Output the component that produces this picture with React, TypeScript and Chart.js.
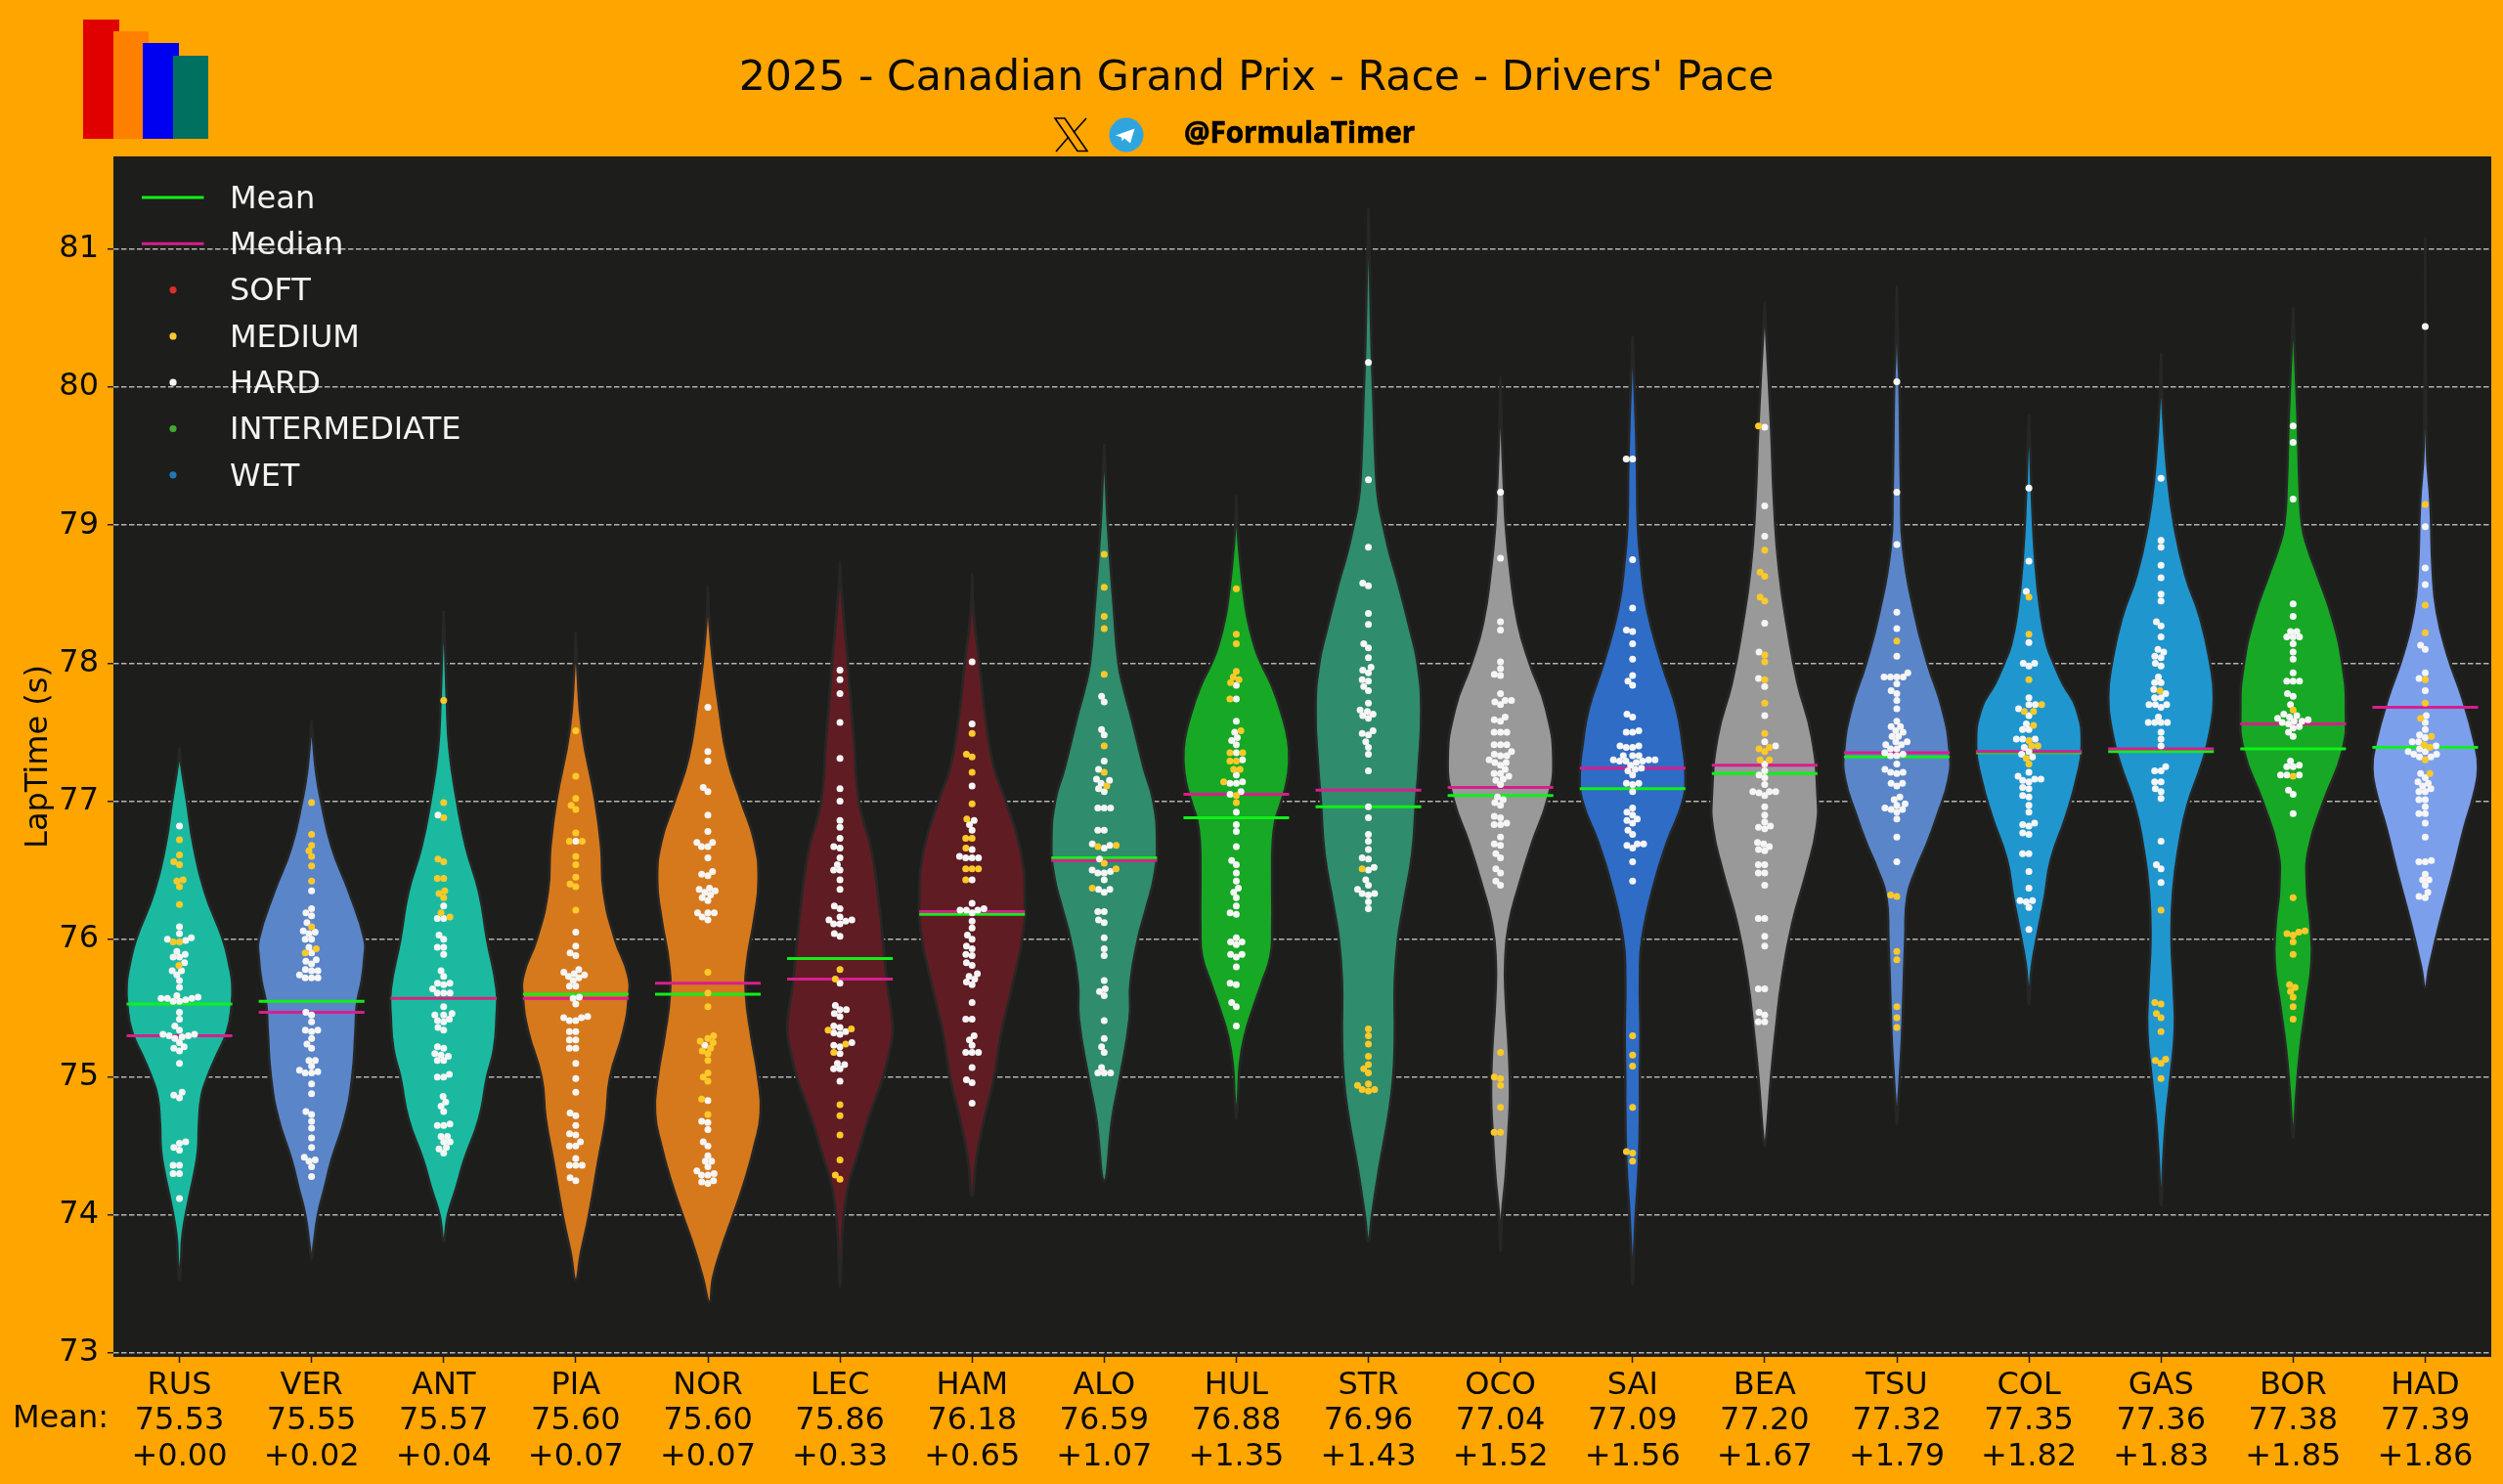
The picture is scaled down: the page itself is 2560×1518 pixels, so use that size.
import React, { useEffect, useRef } from "react";
import { Chart, registerables } from "chart.js";

Chart.register(...registerables);

const drivers = ["RUS","VER","ANT","PIA","NOR","LEC","HAM","ALO","HUL","STR","OCO","SAI","BEA","TSU","COL","GAS","BOR","HAD"];
const meanLabels = ["75.53","75.55","75.57","75.60","75.60","75.86","76.18","76.59","76.88","76.96","77.04","77.09","77.20","77.32","77.35","77.36","77.38","77.39"];
const gapLabels = ["+0.00","+0.02","+0.04","+0.07","+0.07","+0.33","+0.65","+1.07","+1.35","+1.43","+1.52","+1.56","+1.67","+1.79","+1.82","+1.83","+1.85","+1.86"];
const means = [75.53,75.55,75.57,75.60,75.60,75.86,76.18,76.59,76.88,76.96,77.04,77.09,77.20,77.32,77.35,77.36,77.38,77.39];
const medians = [75.30,75.47,75.57,75.57,75.68,75.71,76.20,76.57,77.05,77.08,77.10,77.24,77.26,77.35,77.36,77.38,77.56,77.68];
const violinColors = ["#1bbaa0","#5a85c9","#1bbaa0","#d6791c","#d6791c","#5f1c22","#5f1c22","#2f8c6d","#17a825","#2f8c6d","#999999","#2e6cc6","#999999","#5a85c9","#2096cf","#2096cf","#17a825","#7c9fec"];
const yTicks = [73,74,75,76,77,78,79,80,81];
const legendLines = [["Mean","#10f018"],["Median","#d81e8c"]];
const legendDots = [["SOFT","#d5302a"],["MEDIUM","#fcc92a"],["HARD","#f5f5f5"],["INTERMEDIATE","#43a82f"],["WET","#1f78b4"]];

const RUS_HARD = [76.82,76.09,76.04,76.01,76.00,75.99,75.91,75.89,75.87,75.87,75.83,75.77,75.77,75.74,75.70,75.65,75.59,75.58,75.57,75.55,75.57,75.56,75.57,75.55,75.47,75.42,75.37,75.34,75.31,75.31,75.30,75.30,75.28,75.29,75.25,75.22,75.21,75.19,75.10,74.89,74.87,74.85,74.53,74.52,74.49,74.47,74.36,74.36,74.30,74.30,74.12];
const RUS_MEDIUM = [76.72,76.61,76.56,76.54,76.43,76.42,76.38,76.25,75.98,75.98,75.81];
const VER_HARD = [76.35,76.22,76.19,76.17,76.12,76.06,76.05,76.04,76.00,76.00,75.94,75.90,75.85,75.84,75.82,75.78,75.77,75.77,75.74,75.72,75.72,75.72,75.47,75.45,75.40,75.34,75.34,75.33,75.28,75.24,75.21,75.12,75.12,75.08,75.05,75.03,75.03,75.04,74.95,74.88,74.75,74.73,74.68,74.63,74.56,74.49,74.42,74.40,74.39,74.35,74.28];
const VER_MEDIUM = [76.99,76.76,76.68,76.64,76.60,76.53,76.42,76.09,75.90,75.93];
const ANT_HARD = [76.90,76.24,76.15,76.15,76.03,76.00,75.94,75.94,75.89,75.77,75.73,75.68,75.68,75.67,75.64,75.61,75.61,75.61,75.51,75.46,75.45,75.45,75.42,75.40,75.41,75.36,75.34,75.22,75.21,75.17,75.16,75.15,75.12,75.12,75.00,75.00,75.02,74.86,74.82,74.79,74.75,74.65,74.65,74.66,74.57,74.57,74.53,74.53,74.49,74.48,74.45];
const ANT_MEDIUM = [77.73,76.99,76.88,76.58,76.56,76.44,76.44,76.35,76.33,76.30,76.19,76.16];
const PIA_HARD = [76.71,76.05,75.95,75.90,75.88,75.78,75.76,75.74,75.75,75.73,75.72,75.70,75.66,75.66,75.57,75.58,75.53,75.44,75.43,75.41,75.41,75.43,75.33,75.33,75.27,75.27,75.21,75.21,75.10,74.99,74.89,74.74,74.72,74.65,74.59,74.58,74.53,74.50,74.50,74.41,74.36,74.36,74.36,74.27,74.25];
const PIA_MEDIUM = [77.51,77.18,77.02,76.97,76.94,76.77,76.71,76.71,76.60,76.54,76.45,76.40,76.38,76.21];
const NOR_HARD = [77.68,77.36,77.29,77.10,77.07,76.90,76.78,76.70,76.70,76.67,76.67,76.59,76.47,76.49,76.46,76.37,76.36,76.35,76.34,76.30,76.32,76.28,76.19,76.19,76.19,76.16,76.14,75.23,74.83,74.68,74.67,74.62,74.53,74.50,74.43,74.39,74.39,74.35,74.32,74.30,74.29,74.29,74.25,74.24,74.23];
const NOR_MEDIUM = [75.76,75.61,75.51,75.30,75.28,75.26,75.25,75.21,75.19,75.17,75.12,75.03,75.00,74.97,74.84,74.73];
const LEC_HARD = [77.95,77.88,77.78,77.57,77.31,77.09,77.00,76.86,76.81,76.73,76.67,76.66,76.59,76.54,76.50,76.50,76.43,76.36,76.24,76.22,76.16,76.14,76.14,76.13,76.11,76.11,76.04,76.02,75.68,75.52,75.49,75.49,75.46,75.44,75.37,75.36,75.33,75.32,75.31,75.25,75.23,75.22,75.17,75.10,75.09,75.06,75.06,74.97];
const LEC_MEDIUM = [75.78,75.71,75.34,75.35,75.24,75.18,74.80,74.72,74.58,74.40,74.29,74.26];
const HAM_HARD = [78.01,77.56,77.11,76.86,76.83,76.79,76.65,76.60,76.59,76.59,76.59,76.43,76.26,76.22,76.21,76.21,76.21,76.19,76.13,76.08,76.03,76.00,75.95,75.93,75.88,75.89,75.83,75.81,75.75,75.73,75.71,75.69,75.67,75.54,75.42,75.42,75.30,75.27,75.23,75.18,75.18,75.18,75.07,74.98,74.96,74.81];
const HAM_MEDIUM = [77.49,77.34,77.32,77.21,76.98,76.87,76.73,76.73,76.66,76.51,76.51,76.51,76.43];
const ALO_HARD = [77.76,77.72,77.52,77.48,77.29,77.23,77.16,77.15,77.13,77.09,77.07,76.95,76.95,76.95,76.79,76.79,76.69,76.66,76.68,76.58,76.50,76.48,76.48,76.49,76.43,76.36,76.34,76.36,76.20,76.20,76.14,76.12,76.01,75.93,75.88,75.70,75.64,75.62,75.59,75.41,75.28,75.22,75.18,75.07,75.03,75.03,75.03];
const ALO_MEDIUM = [78.79,78.55,78.34,78.25,77.92,77.40,77.21,77.11,76.67,76.68,76.55,76.51,76.37];
const HUL_HARD = [77.84,77.74,77.58,77.50,77.46,77.44,77.41,77.35,77.30,77.19,77.14,77.13,77.13,77.07,77.05,76.92,76.83,76.78,76.67,76.57,76.54,76.48,76.42,76.37,76.34,76.30,76.24,76.19,76.18,76.01,75.98,75.96,75.98,75.89,75.87,75.89,75.80,75.68,75.67,75.54,75.51,75.37];
const HUL_MEDIUM = [78.54,78.21,78.14,77.94,77.90,77.88,77.86,77.74,77.51,77.35,77.35,77.29,77.29,77.23,77.23,77.14,77.04,76.99];
const STR_HARD = [80.18,79.33,78.84,78.58,78.56,78.36,78.28,78.14,78.11,78.04,77.95,77.97,77.93,77.87,77.88,77.83,77.80,77.71,77.66,77.65,77.63,77.62,77.60,77.51,77.49,77.48,77.43,77.39,77.34,77.22,76.96,76.88,76.76,76.71,76.65,76.59,76.58,76.52,76.50,76.43,76.39,76.36,76.32,76.33,76.33,76.27,76.22];
const STR_MEDIUM = [76.51,75.35,75.30,75.24,75.15,75.09,75.06,75.03,74.95,74.94,74.91,74.90,74.91];
const OCO_HARD = [79.24,78.76,78.30,78.24,78.01,77.96,77.92,77.91,77.78,77.73,77.70,77.72,77.73,77.58,77.59,77.61,77.50,77.50,77.50,77.41,77.41,77.41,77.36,77.33,77.33,77.34,77.28,77.28,77.30,77.26,77.23,77.20,77.20,77.18,77.15,77.12,77.16,77.03,77.01,76.99,76.97,76.89,76.88,76.83,76.83,76.84,76.74,76.69,76.68,76.62,76.59,76.51,76.48,76.42,76.39];
const OCO_MEDIUM = [75.18,74.99,75.00,74.94,74.78,74.60,74.60];
const SAI_HARD = [79.48,79.48,78.75,78.40,78.24,78.23,78.14,78.03,77.91,77.87,77.84,77.63,77.61,77.50,77.50,77.51,77.40,77.39,77.39,77.40,77.33,77.33,77.33,77.30,77.30,77.29,77.29,77.28,77.26,77.29,77.30,77.24,77.22,77.23,77.19,77.13,77.12,77.13,77.07,76.95,76.92,76.90,76.86,76.87,76.84,76.79,76.76,76.68,76.66,76.69,76.69,76.56,76.42];
const SAI_MEDIUM = [75.30,75.16,75.08,74.78,74.46,74.45,74.39];
const BEA_HARD = [79.71,79.14,78.92,78.29,78.08,77.89,77.83,77.62,77.43,77.40,77.27,77.22,77.19,77.17,77.12,77.07,77.06,77.04,77.07,77.07,76.96,76.90,76.85,76.81,76.80,76.82,76.70,76.69,76.65,76.64,76.67,76.54,76.54,76.48,76.48,76.39,76.15,76.15,76.02,75.95,75.64,75.64,75.47,75.45,75.40,75.40];
const BEA_MEDIUM = [79.72,78.82,78.66,78.63,78.48,78.45,78.06,78.01,77.88,77.71,77.49,77.38,77.36,77.39,77.30,77.30];
const TSU_HARD = [80.04,79.24,78.86,78.37,78.25,78.05,77.93,77.90,77.90,77.90,77.90,77.85,77.80,77.78,77.73,77.67,77.58,77.54,77.54,77.51,77.50,77.47,77.47,77.43,77.43,77.41,77.41,77.38,77.38,77.35,77.34,77.33,77.33,77.27,77.23,77.21,77.20,77.21,77.13,77.13,77.11,77.03,77.01,76.97,76.98,76.95,76.94,76.94,76.92,76.87,76.74,76.56];
const TSU_MEDIUM = [78.16,76.32,76.31,75.91,75.85,75.51,75.43,75.36];
const COL_HARD = [79.27,78.74,78.52,78.15,78.00,77.98,78.00,77.75,77.70,77.70,77.67,77.62,77.56,77.52,77.52,77.45,77.45,77.45,77.39,77.36,77.34,77.32,77.21,77.18,77.16,77.15,77.14,77.16,77.10,77.09,77.04,77.03,76.97,76.92,76.83,76.82,76.84,76.77,76.76,76.62,76.62,76.49,76.37,76.27,76.28,76.28,76.23,76.07];
const COL_MEDIUM = [78.48,78.21,77.88,77.70,77.65,77.65,77.55,77.44,77.40,77.40,77.31,77.27];
const GAS_HARD = [79.34,78.89,78.84,78.71,78.62,78.50,78.45,78.30,78.27,78.19,78.10,78.08,78.05,78.04,78.00,77.98,77.90,77.86,77.86,77.81,77.78,77.75,77.75,77.70,77.70,77.70,77.68,77.61,77.57,77.57,77.57,77.57,77.50,77.45,77.40,77.25,77.22,77.22,77.14,77.14,77.09,77.07,77.02,76.71,76.54,76.51,76.41];
const GAS_MEDIUM = [77.80,76.21,75.54,75.53,75.46,75.43,75.33,75.13,75.12,75.10,74.99];
const BOR_HARD = [79.72,79.60,79.19,78.43,78.34,78.23,78.23,78.19,78.19,78.19,78.14,78.08,78.03,77.93,77.87,77.87,77.87,77.78,77.76,77.70,77.63,77.62,77.61,77.60,77.59,77.58,77.57,77.58,77.56,77.54,77.53,77.50,77.47,77.29,77.26,77.25,77.25,77.19,77.19,77.19,77.08,77.05,76.91];
const BOR_MEDIUM = [77.66,77.18,76.30,76.06,76.04,76.05,76.03,75.98,75.89,75.67,75.65,75.62,75.58,75.51,75.42];
const HAD_HARD = [80.44,78.99,78.69,78.57,78.13,78.10,77.93,77.89,77.80,77.62,77.57,77.52,77.48,77.46,77.43,77.43,77.40,77.38,77.36,77.36,77.34,77.34,77.32,77.32,77.20,77.17,77.14,77.13,77.11,77.09,77.07,77.07,77.01,77.01,76.96,76.91,76.91,76.84,76.74,76.56,76.56,76.57,76.47,76.43,76.43,76.39,76.31,76.34,76.30];
const HAD_MEDIUM = [79.15,78.42,78.22,77.88,77.71,77.60,77.47,77.41,77.39,77.30,77.20];

const hardTimes = [RUS_HARD,VER_HARD,ANT_HARD,PIA_HARD,NOR_HARD,LEC_HARD,HAM_HARD,ALO_HARD,HUL_HARD,STR_HARD,OCO_HARD,SAI_HARD,BEA_HARD,TSU_HARD,COL_HARD,GAS_HARD,BOR_HARD,HAD_HARD];
const mediumTimes = [RUS_MEDIUM,VER_MEDIUM,ANT_MEDIUM,PIA_MEDIUM,NOR_MEDIUM,LEC_MEDIUM,HAM_MEDIUM,ALO_MEDIUM,HUL_MEDIUM,STR_MEDIUM,OCO_MEDIUM,SAI_MEDIUM,BEA_MEDIUM,TSU_MEDIUM,COL_MEDIUM,GAS_MEDIUM,BOR_MEDIUM,HAD_MEDIUM];

// Violin outlines: [lap time, relative half-width]
const RUS_VIOLIN = [[77.39,0],[77.27,.03],[77,.14],[76.67,.27],[76.34,.48],[76,.82],[75.8,.95],[75.67,1],[75.53,.99],[75.33,.9],[75.13,.67],[75,.53],[74.87,.42],[74.67,.37],[74.47,.35],[74.3,.28],[74.1,.17],[73.86,.06],[73.66,.03],[73.53,0]];
const VER_VIOLIN = [[77.59,0],[77.44,.03],[77.2,.09],[77,.18],[76.67,.38],[76.34,.71],[76,1],[75.87,1],[75.7,.95],[75.53,.86],[75.33,.83],[75,.77],[74.7,.63],[74.4,.38],[74.2,.25],[74,.12],[73.78,.04],[73.68,0]];
const ANT_VIOLIN = [[78.38,0],[78.09,.03],[77.73,.06],[77.37,.11],[77,.25],[76.67,.42],[76.34,.67],[76,.82],[75.64,1],[75.43,1],[75.2,.95],[75,.82],[74.7,.67],[74.4,.39],[74.2,.24],[74,.08],[73.81,0]];
const PIA_VIOLIN = [[78.23,0],[77.96,.03],[77.51,.12],[77,.37],[76.67,.48],[76.34,.53],[76,.74],[75.74,.99],[75.57,1],[75.33,.9],[75,.65],[74.7,.57],[74.4,.43],[74,.25],[73.73,.1],[73.53,0]];
const NOR_VIOLIN = [[78.56,0],[78.3,.03],[78,.1],[77.68,.21],[77.31,.37],[77,.63],[76.71,.88],[76.43,.96],[76.15,.88],[75.83,.74],[75.6,.72],[75.3,.82],[75,.95],[74.74,1],[74.5,.88],[74.25,.7],[74,.48],[73.76,.26],[73.55,.1],[73.37,.03]];
const LEC_VIOLIN = [[78.74,0],[78.53,.03],[78,.15],[77.42,.27],[77,.36],[76.64,.6],[76.29,.73],[76,.81],[75.66,.9],[75.36,1],[75.17,.93],[75,.82],[74.71,.55],[74.43,.33],[74.2,.15],[73.9,.05],[73.69,.03],[73.48,0]];
const HAM_VIOLIN = [[78.65,0],[78.37,.03],[78,.14],[77.56,.27],[77.24,.42],[77,.64],[76.64,.92],[76.29,1],[76,.95],[75.66,.76],[75.31,.55],[75,.42],[74.71,.24],[74.43,.09],[74.14,0]];
const ALO_VIOLIN = [[79.59,0],[79.34,.03],[79,.07],[78.41,.18],[78,.27],[77.8,.38],[77.63,.5],[77.24,.75],[77,.93],[76.7,1],[76.46,.95],[76.23,.8],[76,.64],[75.69,.5],[75.42,.48],[75,.3],[74.72,.16],[74.25,0]];
const HUL_VIOLIN = [[79.22,0],[78.95,.03],[78.72,.08],[78.54,.13],[78.33,.21],[78.13,.34],[78,.47],[77.83,.68],[77.63,.86],[77.44,.98],[77.28,1],[77.13,.95],[76.97,.83],[76.86,.74],[76.7,.69],[76.46,.68],[76.08,.68],[75.88,.65],[75.69,.49],[75.49,.31],[75.3,.16],[75.1,.07],[74.83,.03],[74.7,0]];
const STR_VIOLIN = [[81.3,0],[80.83,.03],[80.3,.06],[79.96,.09],[79.33,.15],[79.15,.2],[79,.28],[78.8,.4],[78.6,.55],[78.21,.81],[78,.93],[77.67,1],[77.24,.95],[77,.9],[76.62,.83],[76.26,.67],[76,.56],[75.69,.5],[75.3,.5],[75,.47],[74.72,.38],[74.33,.2],[74,.07],[73.81,0]];
const OCO_VIOLIN = [[80.08,0],[79.63,.03],[79.24,.07],[79,.1],[78.68,.18],[78.29,.33],[78,.55],[77.67,.86],[77.28,1],[77,.88],[76.7,.6],[76.39,.35],[76.11,.16],[75.84,.09],[75.57,.1],[75.18,.16],[74.87,.18],[74.6,.15],[74.29,.1],[74,.03],[73.74,0]];
const SAI_VIOLIN = [[80.37,0],[80.08,.03],[79.48,.08],[79,.1],[78.75,.15],[78.4,.27],[78,.55],[77.67,.83],[77.4,.95],[77.2,1],[77,.95],[76.7,.65],[76.39,.4],[76,.18],[75.73,.14],[75.3,.15],[75,.14],[74.78,.14],[74.39,.12],[74,.06],[73.75,.03],[73.5,0]];
const BEA_VIOLIN = [[80.62,0],[80.39,.03],[79.72,.12],[79.14,.18],[78.68,.27],[78.25,.43],[77.86,.62],[77.47,.89],[77.04,1],[76.8,.98],[76.5,.8],[76.11,.52],[75.72,.33],[75.34,.21],[75,.12],[74.56,.03],[74.5,0]];
const TSU_VIOLIN = [[80.74,0],[80.23,.03],[80.04,.05],[79.24,.08],[78.83,.12],[78.37,.33],[78,.58],[77.67,.86],[77.36,1],[77.16,.98],[76.89,.76],[76.7,.58],[76.5,.36],[76.31,.2],[76,.16],[75.53,.12],[75.3,.1],[74.95,.05],[74.83,.03],[74.66,0]];
const COL_VIOLIN = [[79.8,0],[79.51,.03],[79.27,.05],[78.74,.12],[78.37,.22],[78.13,.34],[78,.47],[77.86,.63],[77.67,.9],[77.4,1],[77.16,.9],[76.89,.7],[76.58,.42],[76.31,.3],[76.07,.18],[75.84,.07],[75.69,.03],[75.53,0]];
const GAS_VIOLIN = [[80.25,0],[79.88,.03],[79.34,.13],[79,.25],[78.64,.46],[78.33,.74],[78,.93],[77.75,1],[77.51,.93],[77.28,.78],[76.97,.5],[76.7,.35],[76.35,.23],[76,.2],[75.65,.24],[75.34,.26],[75,.18],[74.71,.1],[74.44,.05],[74.07,0]];
const BOR_VIOLIN = [[80.58,0],[80.29,.03],[79.72,.09],[79.3,.12],[79,.17],[78.83,.28],[78.64,.46],[78.33,.74],[78,.93],[77.67,1],[77.36,.93],[77,.58],[76.66,.3],[76.39,.26],[76.11,.33],[75.84,.35],[75.53,.25],[75.22,.14],[74.87,.06],[74.68,.03],[74.56,0]];
const HAD_VIOLIN = [[81.09,0],[79.57,.03],[79.15,.1],[78.68,.14],[78.37,.22],[78.06,.42],[77.75,.7],[77.43,.93],[77.24,1],[77.05,.92],[76.81,.74],[76.5,.54],[76.11,.27],[75.8,.08],[75.65,0]];
const violinProfiles = [RUS_VIOLIN,VER_VIOLIN,ANT_VIOLIN,PIA_VIOLIN,NOR_VIOLIN,LEC_VIOLIN,HAM_VIOLIN,ALO_VIOLIN,HUL_VIOLIN,STR_VIOLIN,OCO_VIOLIN,SAI_VIOLIN,BEA_VIOLIN,TSU_VIOLIN,COL_VIOLIN,GAS_VIOLIN,BOR_VIOLIN,HAD_VIOLIN];

const MAX_HALF_WIDTH = 0.4;
const X_PX = 135.1;
const Y_PX = 141.15;
const DOT_D = 6.2;

// Same idea as a swarm plot: lowest lap first, closest free slot to the midline.
function swarm(hard: number[], medium: number[]) {
  const items = [
    ...hard.map((y) => ({ y, kind: "hard" })),
    ...medium.map((y) => ({ y, kind: "medium" })),
  ].sort((a, b) => a.y - b.y);
  const placed: { px: number; py: number; y: number; kind: string }[] = [];
  for (const it of items) {
    const py = it.y * Y_PX;
    const near = placed.filter((p) => Math.abs(p.py - py) < DOT_D);
    const cands = [0];
    let leftFirst = true;
    for (const n of near) {
      const dx = Math.sqrt(Math.max(DOT_D * DOT_D - (py - n.py) ** 2, 0)) * 1.05;
      const pair = leftFirst ? [n.px - dx, n.px + dx] : [n.px + dx, n.px - dx];
      cands.push(...pair);
      leftFirst = !leftFirst;
    }
    const ordered = cands.map((c, i) => [c, i]).sort((a, b) => Math.abs(a[0]) - Math.abs(b[0]) || a[1] - b[1]);
    let px = ordered[0][0];
    for (const [c] of ordered) {
      const ok = near.every((n) => (n.px - c) ** 2 + (n.py - py) ** 2 >= DOT_D * DOT_D - 0.01);
      if (ok) { px = c; break; }
    }
    placed.push({ px, py, y: it.y, kind: it.kind });
  }
  return placed;
}

const hardPoints: { x: number; y: number }[] = [];
const mediumPoints: { x: number; y: number }[] = [];
drivers.forEach((_, i) => {
  for (const p of swarm(hardTimes[i], mediumTimes[i])) {
    (p.kind === "hard" ? hardPoints : mediumPoints).push({ x: i + p.px / X_PX, y: p.y });
  }
});

function violinOutline(i: number) {
  const prof = violinProfiles[i];
  const right = prof.map(([v, w]) => ({ x: i + w * MAX_HALF_WIDTH, y: v }));
  const left = prof.slice(0, -1).reverse().map(([v, w]) => ({ x: i - w * MAX_HALF_WIDTH, y: v }));
  return [...right, ...left];
}

function hLines(values: number[]) {
  const out: { x: number | null; y: number | null }[] = [];
  values.forEach((v, i) => {
    out.push({ x: i - 0.4, y: v }, { x: i + 0.4, y: v }, { x: null, y: null });
  });
  return out;
}

const FONT = "'DejaVu Sans'";
const TEXT_SIZE = 32;

const decorPlugin = {
  id: "decor",
  beforeDraw(chart: any) {
    const { ctx, chartArea: a, width, height } = chart;
    ctx.save();
    ctx.fillStyle = "#ffa500";
    ctx.fillRect(0, 0, width, height);
    ctx.fillStyle = "#1d1d1b";
    ctx.fillRect(a.left, a.top, a.right - a.left, a.bottom - a.top);
    ctx.restore();
  },
  afterDraw(chart: any) {
    const { ctx } = chart;
    ctx.save();
    // logo
    const logo: [string, number, number, number][] = [["#e00000",85,20,37],["#ff8000",116,32,36],["#0000f0",146,44,37],["#007060",177,57,36]];
    for (const [c, x, y, w] of logo) { ctx.fillStyle = c; ctx.fillRect(x, y, w, 142 - y); }
    // title
    ctx.fillStyle = "#0b0b0b";
    ctx.textAlign = "center";
    ctx.textBaseline = "middle";
    ctx.font = `42.7px ${FONT}`;
    ctx.fillText("2025 - Canadian Grand Prix - Race - Drivers' Pace", 1285, 81);
    // handle
    ctx.textAlign = "left";
    ctx.font = "bold 29.6px 'Open Sans'";
    ctx.fillStyle = "#000";
    ctx.strokeStyle = "#000";
    ctx.lineWidth = 0.7;
    ctx.fillText("@FormulaTimer", 1211, 138);
    ctx.strokeText("@FormulaTimer", 1211, 138);
    // X mark
    ctx.strokeStyle = "#000";
    ctx.lineWidth = 1.6;
    ctx.beginPath();
    ctx.moveTo(1079, 121); ctx.lineTo(1089, 121); ctx.lineTo(1112, 154.5); ctx.lineTo(1102, 154.5); ctx.closePath();
    ctx.stroke();
    ctx.beginPath();
    ctx.moveTo(1111, 121); ctx.lineTo(1098, 135.5);
    ctx.moveTo(1093, 140); ctx.lineTo(1080, 155);
    ctx.stroke();
    // telegram mark
    ctx.fillStyle = "#2fa5e0";
    ctx.beginPath(); ctx.arc(1152, 138, 17.5, 0, Math.PI * 2); ctx.fill();
    ctx.fillStyle = "#fff";
    ctx.beginPath();
    ctx.moveTo(1141, 138.5); ctx.lineTo(1160.5, 131.5); ctx.lineTo(1156, 146.5); ctx.lineTo(1150, 141.5); ctx.lineTo(1147.5, 144.5); ctx.lineTo(1147, 140.5);
    ctx.closePath(); ctx.fill();
    // Mean: row label
    ctx.fillStyle = "#0b0b0b";
    ctx.font = `${TEXT_SIZE}px ${FONT}`;
    ctx.fillText("Mean:", 13, 1452);
    // legend
    let y = 202;
    const step = 47.3;
    for (const [label, color] of legendLines) {
      ctx.strokeStyle = color;
      ctx.lineWidth = 3;
      ctx.beginPath(); ctx.moveTo(145, y); ctx.lineTo(208.5, y); ctx.stroke();
      ctx.fillStyle = "#f4f4f4";
      ctx.fillText(label, 235, y + 2.5);
      y += step;
    }
    for (const [label, color] of legendDots) {
      ctx.fillStyle = color;
      ctx.beginPath(); ctx.arc(177, y, 3.6, 0, Math.PI * 2); ctx.fill();
      ctx.fillStyle = "#f4f4f4";
      ctx.fillText(label, 235, y + 2.5);
      y += step;
    }
    ctx.restore();
  },
};

export default function App() {
  const ref = useRef<HTMLCanvasElement | null>(null);
  useEffect(() => {
    document.body.style.margin = "0";
    const violinSets = drivers.map((name, i) => ({
      label: name,
      data: violinOutline(i),
      showLine: true,
      fill: "shape",
      tension: 0.5,
      backgroundColor: violinColors[i],
      borderColor: "#262726",
      borderWidth: 2.6,
      pointRadius: 0,
      order: 4,
    }));
    const chart = new Chart(ref.current as HTMLCanvasElement, {
      type: "scatter",
      data: {
        datasets: [
          ...violinSets,
          { label: "Mean", data: hLines(means), showLine: true, borderColor: "#10f018", borderWidth: 3, pointRadius: 0, order: 3 },
          { label: "Median", data: hLines(medians), showLine: true, borderColor: "#d81e8c", borderWidth: 3, pointRadius: 0, order: 2 },
          { label: "MEDIUM", data: mediumPoints, pointRadius: 3.5, pointBackgroundColor: "#fcc92a", pointBorderWidth: 0, order: 1 },
          { label: "HARD", data: hardPoints, pointRadius: 3.5, pointBackgroundColor: "#f5f5f5", pointBorderWidth: 0, order: 1 },
        ] as any,
      },
      options: {
        responsive: false,
        animation: false,
        devicePixelRatio: 1,
        layout: { padding: { left: 0, top: 160, right: 12, bottom: 0 } },
        plugins: { legend: { display: false }, tooltip: { enabled: false } },
        scales: {
          x: {
            type: "linear",
            min: -0.5,
            max: 17.5,
            afterFit: (s: any) => { s.height = 130; },
            afterBuildTicks: (s: any) => { s.ticks = drivers.map((_, i) => ({ value: i })); },
            grid: { display: true, drawOnChartArea: false, tickLength: 6, tickColor: "#1d1d1b", tickWidth: 1.5 },
            border: { display: false },
            ticks: {
              autoSkip: false,
              maxRotation: 0,
              padding: 5,
              color: "#0b0b0b",
              font: { family: "DejaVu Sans", size: TEXT_SIZE, lineHeight: 1.14 },
              callback: (v: any) => [drivers[v], meanLabels[v], gapLabels[v]],
            },
          },
          y: {
            type: "linear",
            min: 72.972,
            max: 81.673,
            afterFit: (s: any) => { s.width = 116; },
            afterBuildTicks: (s: any) => { s.ticks = yTicks.map((value) => ({ value })); },
            grid: { color: "#b4b4b4", lineWidth: 1.5, tickLength: 6, tickColor: "#1d1d1b", tickWidth: 1.5 },
            border: { display: false, dash: [5.5, 2.5] },
            ticks: { padding: 9, color: "#0b0b0b", font: { family: "DejaVu Sans", size: TEXT_SIZE } },
            title: { display: true, text: "LapTime (s)", color: "#0b0b0b", font: { family: "DejaVu Sans", size: TEXT_SIZE }, padding: { top: 20, bottom: 0 } },
          },
        },
      } as any,
      plugins: [decorPlugin],
    });
    return () => chart.destroy();
  }, []);
  return (
    <div style={{ position: "absolute", left: 0, top: 0, width: 2560, height: 1518, overflow: "hidden" }}>
      <canvas ref={ref} width={2560} height={1518} style={{ display: "block", width: 2560, height: 1518 }} />
    </div>
  );
}
